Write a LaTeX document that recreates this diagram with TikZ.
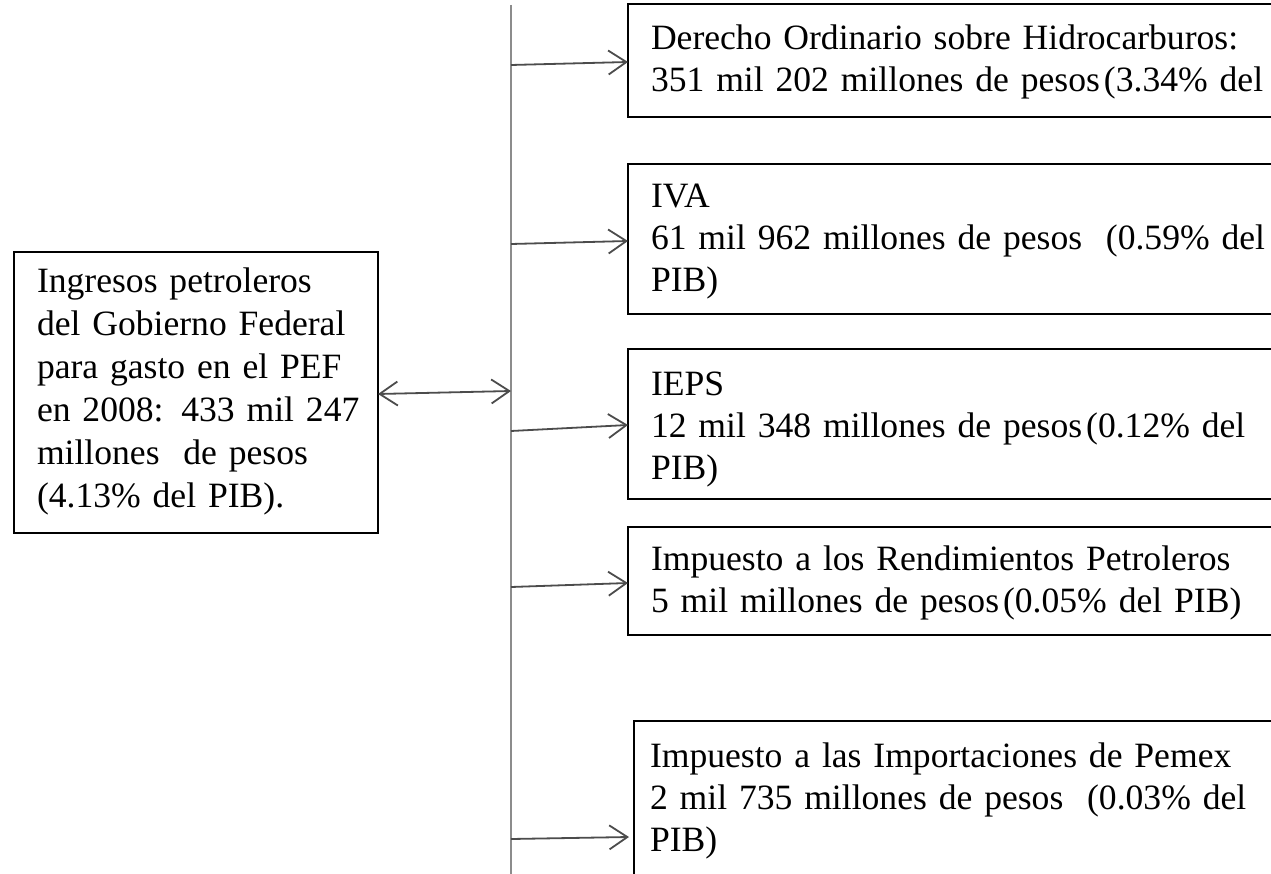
\documentclass[tikz,border=0pt]{standalone}
\usepackage{fontspec}
\setmainfont{Liberation Serif}
\usetikzlibrary{arrows.meta}
\tikzset{
  box/.style={draw=black, line width=2.8pt, anchor=base west, outer sep=0pt,
    inner xsep=23pt, inner ysep=0pt, text width=#1, align=left,
    font=\fontsize{35.6}{42}\selectfont},
  trunk/.style={draw=black!45, line width=2.5pt},
  arr/.style={draw=black!70, line width=1.8pt, -{Straight Barb[length=18pt,width=24pt]}},
  dblarr/.style={draw=black!70, line width=1.8pt, {Straight Barb[length=18pt,width=24pt]}-{Straight Barb[length=18pt,width=24pt]}}
}
\begin{document}
\begin{tikzpicture}[x=1pt,y=-1pt]
\useasboundingbox (0,0) rectangle (1271,874);
\clip (0,0) rectangle (1271,874);
\fill[white] (0,0) rectangle (1271,874);

% trunk
\coordinate (ttop) at (511,5);
\coordinate (tbot) at (511,880);
\draw[trunk] (ttop) -- (tbot);

% left box
\node[box=318pt, text height=41pt, text depth=240pt,
      font=\fontsize{35.6}{43}\selectfont] (L) at (14,293)
  {Ingresos petroleros\\del Gobierno Federal\\para gasto en el PEF\\\mbox{en 2008: 433 mil 247}\\millones\ \ de pesos\\(4.13\% del PIB).};

% right boxes
\node[box=700pt, text height=46pt, text depth=67pt] (b1) at (628,50)
  {Derecho Ordinario sobre Hidrocarburos:\\351 mil 202 millones de pesos\hspace{4pt}(3.34\% del};
\node[box=700pt, text height=44pt, text depth=106pt] (b2) at (628,208)
  {IVA\\61 mil 962 millones de pesos\ \ (0.59\% del\\PIB)};
\node[box=700pt, text height=46pt, text depth=104pt] (b3) at (628,395)
  {IEPS\\12 mil 348 millones de pesos\hspace{4pt}(0.12\% del\\PIB)};
\node[box=700pt, text height=43pt, text depth=65pt] (b4) at (628,570)
  {Impuesto a los Rendimientos Petroleros\\5 mil millones de pesos\hspace{4pt}(0.05\% del PIB)};
\node[box=700pt, inner xsep=16pt, text height=46pt, text depth=200pt] (b5) at (634,767)
  {Impuesto a las Importaciones de Pemex\\2 mil 735 millones de pesos\ \ (0.03\% del\\PIB)};

% junction points on the trunk
\coordinate (j0) at (511,391);
\coordinate (j1) at (511,65);
\coordinate (j2) at (511,244);
\coordinate (j3) at (511,431);
\coordinate (j4) at (511,587);
\coordinate (j5) at (511,839);

% connectors
\draw[dblarr] ([yshift=-101pt]L.base east) -- (j0);
\draw[arr] (j1) -- ([yshift=-12pt]b1.base west);
\draw[arr] (j2) -- ([yshift=-33pt]b2.base west);
\draw[arr] (j3) -- ([yshift=-30pt]b3.base west);
\draw[arr] (j4) -- ([yshift=-13pt]b4.base west);
\draw[arr] (j5) -- ([xshift=-5pt,yshift=-70pt]b5.base west);
\end{tikzpicture}
\end{document}
